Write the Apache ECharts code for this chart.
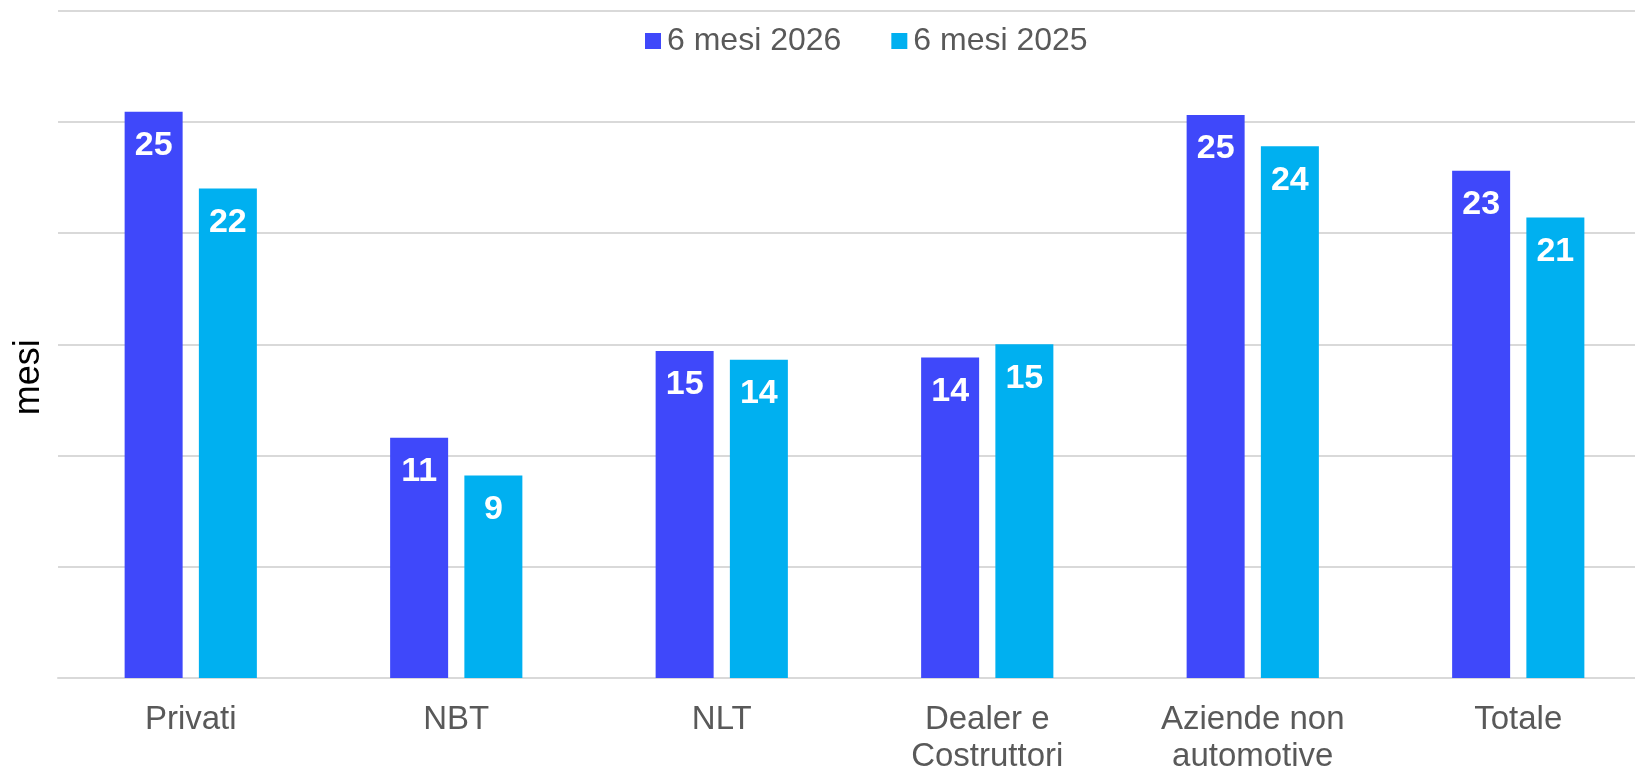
<!DOCTYPE html>
<html>
<head>
<meta charset="utf-8">
<script src="https://cdn.jsdelivr.net/npm/echarts@6/dist/echarts.min.js"></script>
<style>
html,body{margin:0;padding:0;background:#fff;}
#chart{width:1635px;height:766px;}
</style>
</head>
<body>
<div id="chart"></div>
<script>
var categories = ['Privati', 'NBT', 'NLT', 'Dealer e\nCostruttori', 'Aziende non\nautomotive', 'Totale'];
var series2026 = [25.45, 10.8, 14.7, 14.4, 25.3, 22.8];
var series2025 = [22.0, 9.1, 14.3, 15.0, 23.9, 20.7];
var seriesNames = ['6 mesi 2026', '6 mesi 2025'];
var yAxisName = 'mesi';

var chart = echarts.init(document.getElementById('chart'), null, {renderer: 'canvas'});
var labelCfg = {
  show: true,
  position: 'insideTop',
  distance: 17,
  color: '#ffffff',
  fontFamily: 'Liberation Sans, Arial, sans-serif',
  fontWeight: 'bold',
  fontSize: 34,
  formatter: function (p) { return Math.round(p.value); }
};
chart.setOption({
  animation: false,
  textStyle: {fontFamily: 'Liberation Sans, Arial, sans-serif'},
  grid: {left: 58, right: -16, top: 10.5, bottom: 88, containLabel: false, outerBoundsMode: 'none'},
  legend: {
    data: seriesNames,
    left: 640,
    top: 20,
    icon: 'rect',
    itemWidth: 16,
    itemHeight: 16,
    itemGap: 50,
    textStyle: {fontSize: 32, color: '#595959', padding: [0, 0, 0, 1]}
  },
  xAxis: {
    type: 'category',
    data: categories,
    axisLine: {show: true, lineStyle: {color: '#D9D9D9', width: 2}},
    axisTick: {show: false},
    axisLabel: {color: '#595959', fontSize: 33, lineHeight: 37, margin: 23, interval: 0}
  },
  yAxis: {
    type: 'value',
    min: 0,
    max: 30,
    interval: 5,
    name: yAxisName,
    nameLocation: 'middle',
    nameGap: 11,
    nameRotate: 90,
    nameTextStyle: {color: '#000000', fontSize: 36, padding: [0, 66, 0, 0]},
    axisLabel: {show: false},
    axisLine: {show: false},
    axisTick: {show: false},
    splitLine: {show: true, lineStyle: {color: '#D9D9D9', width: 2}}
  },
  series: [
    {
      name: seriesNames[0],
      type: 'bar',
      data: series2026,
      barWidth: 58,
      barGap: '28%',
      itemStyle: {color: '#3F48FA'},
      label: labelCfg
    },
    {
      name: seriesNames[1],
      type: 'bar',
      data: series2025,
      barWidth: 58,
      barGap: '28%',
      itemStyle: {color: '#00B0F0'},
      label: labelCfg
    }
  ]
});
</script>
</body>
</html>
